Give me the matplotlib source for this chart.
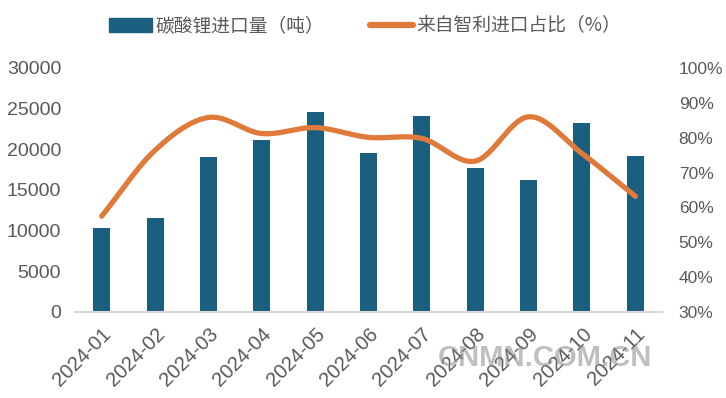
import matplotlib
matplotlib.use("Agg")
import matplotlib.pyplot as plt
from matplotlib.ticker import FuncFormatter
from matplotlib.lines import Line2D
from matplotlib.patches import Patch
import numpy as np

months = ["2024-01", "2024-02", "2024-03", "2024-04", "2024-05", "2024-06",
          "2024-07", "2024-08", "2024-09", "2024-10", "2024-11"]
imports = [10340, 11570, 19080, 21170, 24620, 19570, 24130, 17730, 16210, 23270, 19170]
chile_pct = [57.5, 76.4, 85.8, 81.2, 82.9, 80.1, 79.8, 73.3, 86.0, 75.5, 63.2]

bar_color = "#1a5e80"
line_color = "#e07a3a"
text_color = "#595959"

plt.rcParams['font.family'] = ['Liberation Sans', 'Noto Sans CJK SC', 'DejaVu Sans']


def smooth(xs, ys, yscale, n=30):
    # excel-like smoothed line (catmull-rom through the points, in screen-ish units)
    px = np.asarray(xs, float)
    py = np.asarray(ys, float) * yscale
    px = np.concatenate([[2 * px[0] - px[1]], px, [2 * px[-1] - px[-2]]])
    py = np.concatenate([[2 * py[0] - py[1]], py, [2 * py[-1] - py[-2]]])
    out_x = []
    out_y = []
    for i in range(1, len(px) - 2):
        t = np.linspace(0, 1, n)
        for arr, out in ((px, out_x), (py, out_y)):
            p0, p1, p2, p3 = arr[i - 1], arr[i], arr[i + 1], arr[i + 2]
            out.extend(0.5 * ((2 * p1) + (-p0 + p2) * t
                              + (2 * p0 - 5 * p1 + 4 * p2 - p3) * t ** 2
                              + (-p0 + 3 * p1 - 3 * p2 + p3) * t ** 3))
    return np.array(out_x), np.array(out_y) / yscale


fig = plt.figure(figsize=(7.26, 3.98), dpi=100)
ax = fig.add_axes([75 / 726, 1 - 312 / 398, 587 / 726, 244 / 398])
ax2 = ax.twinx()

x = np.arange(len(months))
ax.bar(x, imports, width=0.32, color=bar_color, zorder=2)
ax.set_ylim(0, 30000)
ax.set_xlim(-0.5, len(months) - 0.5)
ax.set_yticks(range(0, 30001, 5000))

sx, sy = smooth(x, chile_pct, 3.48 / 53.3)
ax2.plot(sx, sy, color=line_color, lw=3.8, solid_capstyle='round', zorder=3)
ax2.set_ylim(30, 100)
ax2.set_yticks(range(30, 101, 10))
ax2.yaxis.set_major_formatter(FuncFormatter(lambda v, p: "%d%%" % v))

for a in (ax, ax2):
    for s in a.spines.values():
        s.set_visible(False)
    a.tick_params(length=0, labelcolor=text_color)
ax.spines['bottom'].set_visible(True)
ax.spines['bottom'].set_color("#d9d9d9")
ax.spines['bottom'].set_linewidth(1.5)
ax.tick_params(axis='y', pad=10, labelsize=14)
ax2.tick_params(axis='y', pad=12, labelsize=12.5)

ax.set_xticks(x)
ax.set_xticklabels(months, rotation=45, ha='right', rotation_mode='anchor')
ax.tick_params(axis='x', pad=9, labelsize=14.5)

handles = [Patch(color=bar_color), Line2D([0], [0], color=line_color, lw=4.5, solid_capstyle='round')]
labels = ["碳酸锂进口量（吨）", "来自智利进口占比（%）"]
fig.legend(handles, labels, loc='center', bbox_to_anchor=(365 / 726, 1 - 26 / 398), ncol=2,
           frameon=False, prop={'family': ['Noto Sans CJK SC', 'DejaVu Sans'], 'size': 13.5},
           handlelength=2.3, handleheight=0.75, handletextpad=0.2, columnspacing=2.4,
           labelcolor=text_color)

fig.text(545 / 726, 1 - 358 / 398, "CNMN.COM.CN", ha='center', va='center', fontsize=21,
         fontweight='bold', color="#8c8c8c", alpha=0.55)

fig.savefig("out.png", dpi=100)
